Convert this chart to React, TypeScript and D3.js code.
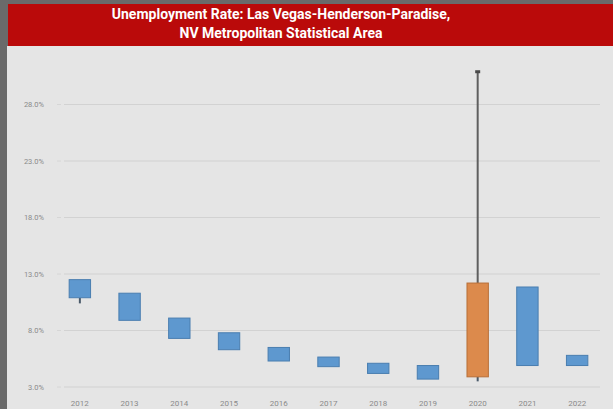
import React from 'react';
import * as d3 from 'd3';

// Yearly candles: January (open) and December (close) rate, with high/low
const years = ['2012', '2013', '2014', '2015', '2016', '2017', '2018', '2019', '2020', '2021', '2022'];
const openRates = [12.5, 11.3, 9.1, 7.8, 6.5, 5.65, 5.1, 4.9, 3.9, 11.85, 5.8];
const closeRates = [10.9, 8.9, 7.3, 6.3, 5.3, 4.8, 4.2, 3.7, 12.2, 4.9, 4.9];
const highRates = [12.5, 11.3, 9.1, 7.8, 6.5, 5.65, 5.1, 4.9, 30.9, 11.85, 5.8];
const lowRates = [10.4, 8.9, 7.3, 6.3, 5.3, 4.8, 4.2, 3.7, 3.5, 4.9, 4.9];
const yTicks = [3, 8, 13, 18, 23, 28];

const W = 613;
const H = 409;

export default function App() {
  const x = d3.scaleBand<string>().domain(years).range([55, 602]).paddingInner(0.57).paddingOuter(0.285);
  const y = d3.scaleLinear().domain([3, 28]).range([387, 104.5]);
  const fmt = d3.format('.1f');

  return (
    <svg width={W} height={H} style={{ position: 'absolute', left: 0, top: 0 }} fontFamily="Roboto, 'Noto Sans', sans-serif">
      {/* outer frame */}
      <rect x={0} y={0} width={W} height={H} fill="#6a6a6a" />
      <rect x={7} y={46} width={W - 7} height={H - 46} fill="#e5e5e5" />
      <rect x={8} y={4} width={W - 8} height={42} fill="#ba0a0a" />
      <text x={281} y={18.5} textAnchor="middle" fill="#fff" fontSize={14} fontWeight="bold">
        Unemployment Rate: Las Vegas-Henderson-Paradise,
      </text>
      <text x={281} y={38} textAnchor="middle" fill="#fff" fontSize={14} fontWeight="bold">
        NV Metropolitan Statistical Area
      </text>

      {/* gridlines and y labels */}
      {yTicks.map(t => (
        <g key={t}>
          <line x1={64} x2={600} y1={y(t)} y2={y(t)} stroke="#d2d2d2" strokeWidth={1.2} />
          <line x1={57} x2={61} y1={y(t)} y2={y(t)} stroke="#d6d6d6" strokeWidth={1} />
          <text x={44} y={y(t)} dy="0.35em" textAnchor="end" fontSize={7.5} fill="#8a8a8a">
            {fmt(t)}%
          </text>
        </g>
      ))}

      {/* x labels */}
      {years.map(yr => (
        <text key={yr} x={(x(yr) ?? 0) + x.bandwidth() / 2} y={403} dy="0.35em" textAnchor="middle" fontSize={8} fill="#8a8a8a">
          {yr}
        </text>
      ))}

      {/* candles */}
      {years.map((yr, i) => {
        const cx = (x(yr) ?? 0) + x.bandwidth() / 2;
        const up = closeRates[i] > openRates[i];
        const top = y(Math.max(openRates[i], closeRates[i]));
        const bot = y(Math.min(openRates[i], closeRates[i]));
        return (
          <g key={yr}>
            {highRates[i] > Math.max(openRates[i], closeRates[i]) && (
              <line x1={cx} x2={cx} y1={y(highRates[i])} y2={top} stroke="#5f5f5f" strokeWidth={2} />
            )}
            {highRates[i] > Math.max(openRates[i], closeRates[i]) && (
              <rect x={cx - 2.5} y={y(highRates[i]) - 1.5} width={5} height={3} fill="#4a4a4a" />
            )}
            {lowRates[i] < Math.min(openRates[i], closeRates[i]) && (
              <line x1={cx} x2={cx} y1={bot} y2={y(lowRates[i])} stroke="#4a5a6a" strokeWidth={2} />
            )}
            <rect
              x={x(yr)}
              y={top}
              width={x.bandwidth()}
              height={bot - top}
              fill={up ? '#dc8a4c' : '#5e98cf'}
              stroke={up ? '#b86f38' : '#4a7eb0'}
              strokeWidth={1}
            />
          </g>
        );
      })}
    </svg>
  );
}
